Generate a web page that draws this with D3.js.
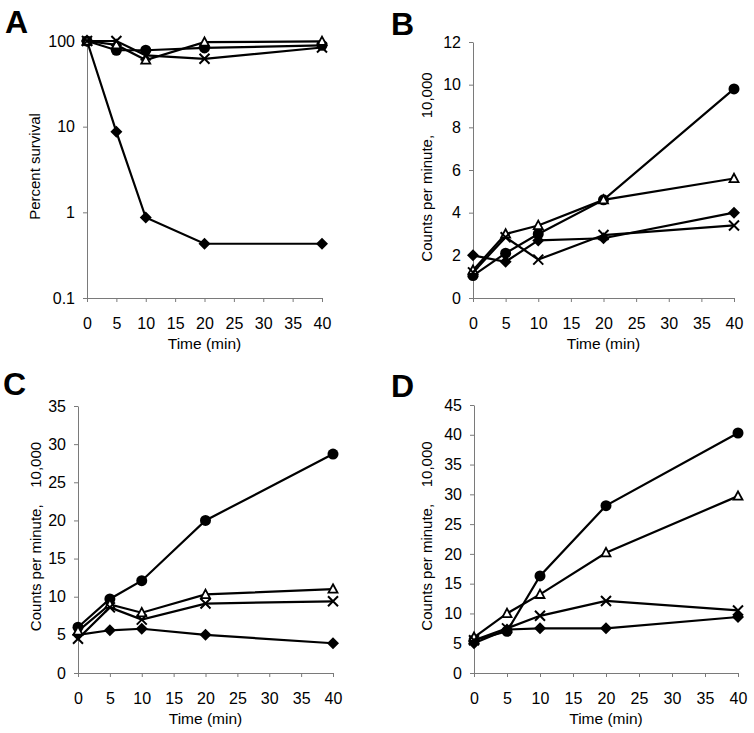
<!DOCTYPE html>
<html>
<head>
<meta charset="utf-8">
<script src="https://cdn.jsdelivr.net/npm/d3@7"></script>
<style>
  body { margin: 0; background: #fff; }
  svg { display: block; font-family: "Liberation Sans", Arial, sans-serif; }
  text { white-space: pre; }
</style>
</head>
<body>
<svg id="chart" width="754" height="733"></svg>
<script>
// ---- data ----
const times = [0, 5, 10, 20, 40];
const xTickValues = [0, 5, 10, 15, 20, 25, 30, 35, 40];

const circleA   = [100, 78, 78, 83, 89];
const triangleA = [100, 90, 60, 97, 99];
const crossA    = [100, 100, 68, 62, 84];
const diamondA  = [100, 8.7, 0.87, 0.43, 0.43];
const yTicksA   = [0.1, 1, 10, 100];

const circleB   = [1.05, 2.1, 3.0, 4.6, 9.8];
const triangleB = [1.3, 3.0, 3.4, 4.6, 5.6];
const diamondB  = [2.0, 1.7, 2.7, 2.8, 4.0];
const crossB    = [1.2, 2.85, 1.8, 2.95, 3.4];
const yTicksB   = [0, 2, 4, 6, 8, 10, 12];

const circleC   = [6.0, 9.7, 12.1, 20.0, 28.7];
const triangleC = [5.5, 9.0, 7.9, 10.3, 11.0];
const crossC    = [4.5, 8.6, 7.0, 9.1, 9.4];
const diamondC  = [5.0, 5.6, 5.8, 5.0, 3.9];
const yTicksC   = [0, 5, 10, 15, 20, 25, 30, 35];

const circleD   = [5.5, 7.0, 16.3, 28.1, 40.3];
const triangleD = [6.0, 10.0, 13.2, 20.2, 29.7];
const crossD    = [5.5, 7.5, 9.6, 12.1, 10.5];
const diamondD  = [5.0, 7.3, 7.5, 7.5, 9.4];
const yTicksD   = [0, 5, 10, 15, 20, 25, 30, 35, 40, 45];

const xTitle = "Time (min)";
const yTitleA = "Percent survival";
const yTitleCounts = "Counts per minute,\u00a0\u00a0\u00a0\u00a010,000";

// ---- layout ----
const panels = [
  { letter: "A", lx: 5, ly: 33, x0: 87, x1: 322, yTop: 41, yBot: 298, log: true,
    domain: [0.1, 100], yTicks: yTicksA, yTitle: yTitleA, yTitleX: 40,
    series: { diamond: diamondA, circle: circleA, triangle: triangleA, cross: crossA } },
  { letter: "B", lx: 391, ly: 35, x0: 473, x1: 734, yTop: 42, yBot: 298, log: false,
    domain: [0, 12], yTicks: yTicksB, yTitle: yTitleCounts, yTitleX: 432,
    series: { diamond: diamondB, circle: circleB, triangle: triangleB, cross: crossB } },
  { letter: "C", lx: 3, ly: 395, x0: 78, x1: 333, yTop: 406, yBot: 673, log: false,
    domain: [0, 35], yTicks: yTicksC, yTitle: yTitleCounts, yTitleX: 41,
    series: { diamond: diamondC, circle: circleC, triangle: triangleC, cross: crossC } },
  { letter: "D", lx: 391, ly: 397, x0: 474, x1: 738, yTop: 405, yBot: 673, log: false,
    domain: [0, 45], yTicks: yTicksD, yTitle: yTitleCounts, yTitleX: 432,
    series: { diamond: diamondD, circle: circleD, triangle: triangleD, cross: crossD } }
];

const svg = d3.select("#chart");
const axisColor = "#7a7a7a";

panels.forEach(p => {
  const g = svg.append("g");
  const x = d3.scaleLinear().domain([0, 40]).range([p.x0, p.x1]);
  const y = (p.log ? d3.scaleLog() : d3.scaleLinear()).domain(p.domain).range([p.yBot, p.yTop]);

  // panel letter
  g.append("text").attr("x", p.lx).attr("y", p.ly)
    .attr("font-size", 32).attr("font-weight", "bold").text(p.letter);

  // x axis
  const xa = g.append("g").attr("transform", `translate(0,${p.yBot})`)
    .call(d3.axisBottom(x).tickValues(xTickValues).tickFormat(d3.format("d"))
      .tickSizeInner(4).tickSizeOuter(0).tickPadding(16));
  // y axis
  const ya = g.append("g").attr("transform", `translate(${p.x0},0)`)
    .call(d3.axisLeft(y).tickValues(p.yTicks)
      .tickFormat(p.log ? (d => d < 1 ? String(d) : d3.format("d")(d)) : d3.format("d"))
      .tickSizeInner(4).tickSizeOuter(0).tickPadding(8));
  [xa, ya].forEach(a => {
    a.select(".domain").attr("stroke", axisColor).attr("stroke-width", 1);
    a.selectAll(".tick line").attr("stroke", axisColor);
    a.selectAll(".tick text").attr("fill", "#000").attr("font-size", 16)
      .attr("font-family", "'Liberation Sans', Arial, sans-serif");
  });

  // axis titles
  g.append("text").attr("x", (p.x0 + p.x1) / 2).attr("y", p.yBot + 51)
    .attr("text-anchor", "middle").attr("font-size", 15.5).text(xTitle);
  g.append("text")
    .attr("transform", `translate(${p.yTitleX},${(p.yTop + p.yBot) / 2 - 3}) rotate(-90)`)
    .attr("text-anchor", "middle").attr("font-size", 15).text(p.yTitle);

  const line = d3.line().x((d, i) => x(times[i])).y(d => y(d));
  const order = ["diamond", "circle", "triangle", "cross"];

  order.forEach(k => {
    const vals = p.series[k];
    g.append("path").datum(vals).attr("d", line)
      .attr("fill", "none").attr("stroke", "#000").attr("stroke-width", 2.2);
    const mg = g.append("g");
    vals.forEach((v, i) => {
      const cx = x(times[i]), cy = y(v);
      if (k === "circle") {
        mg.append("circle").attr("cx", cx).attr("cy", cy).attr("r", 5.5).attr("fill", "#000");
      } else if (k === "diamond") {
        const s = 6;
        mg.append("path").attr("d", `M${cx},${cy - s}L${cx + s},${cy}L${cx},${cy + s}L${cx - s},${cy}Z`)
          .attr("fill", "#000");
      } else if (k === "triangle") {
        const h = 8, w = 9;
        mg.append("path").attr("d", `M${cx},${cy - h * 0.6}L${cx + w / 2},${cy + h * 0.45}L${cx - w / 2},${cy + h * 0.45}Z`)
          .attr("fill", "#fff").attr("stroke", "#000").attr("stroke-width", 1.8);
      } else {
        const s = 5;
        mg.append("path").attr("d", `M${cx - s},${cy - s}L${cx + s},${cy + s}M${cx + s},${cy - s}L${cx - s},${cy + s}`)
          .attr("stroke", "#000").attr("stroke-width", 2).attr("fill", "none");
      }
    });
  });
});
</script>
</body>
</html>
